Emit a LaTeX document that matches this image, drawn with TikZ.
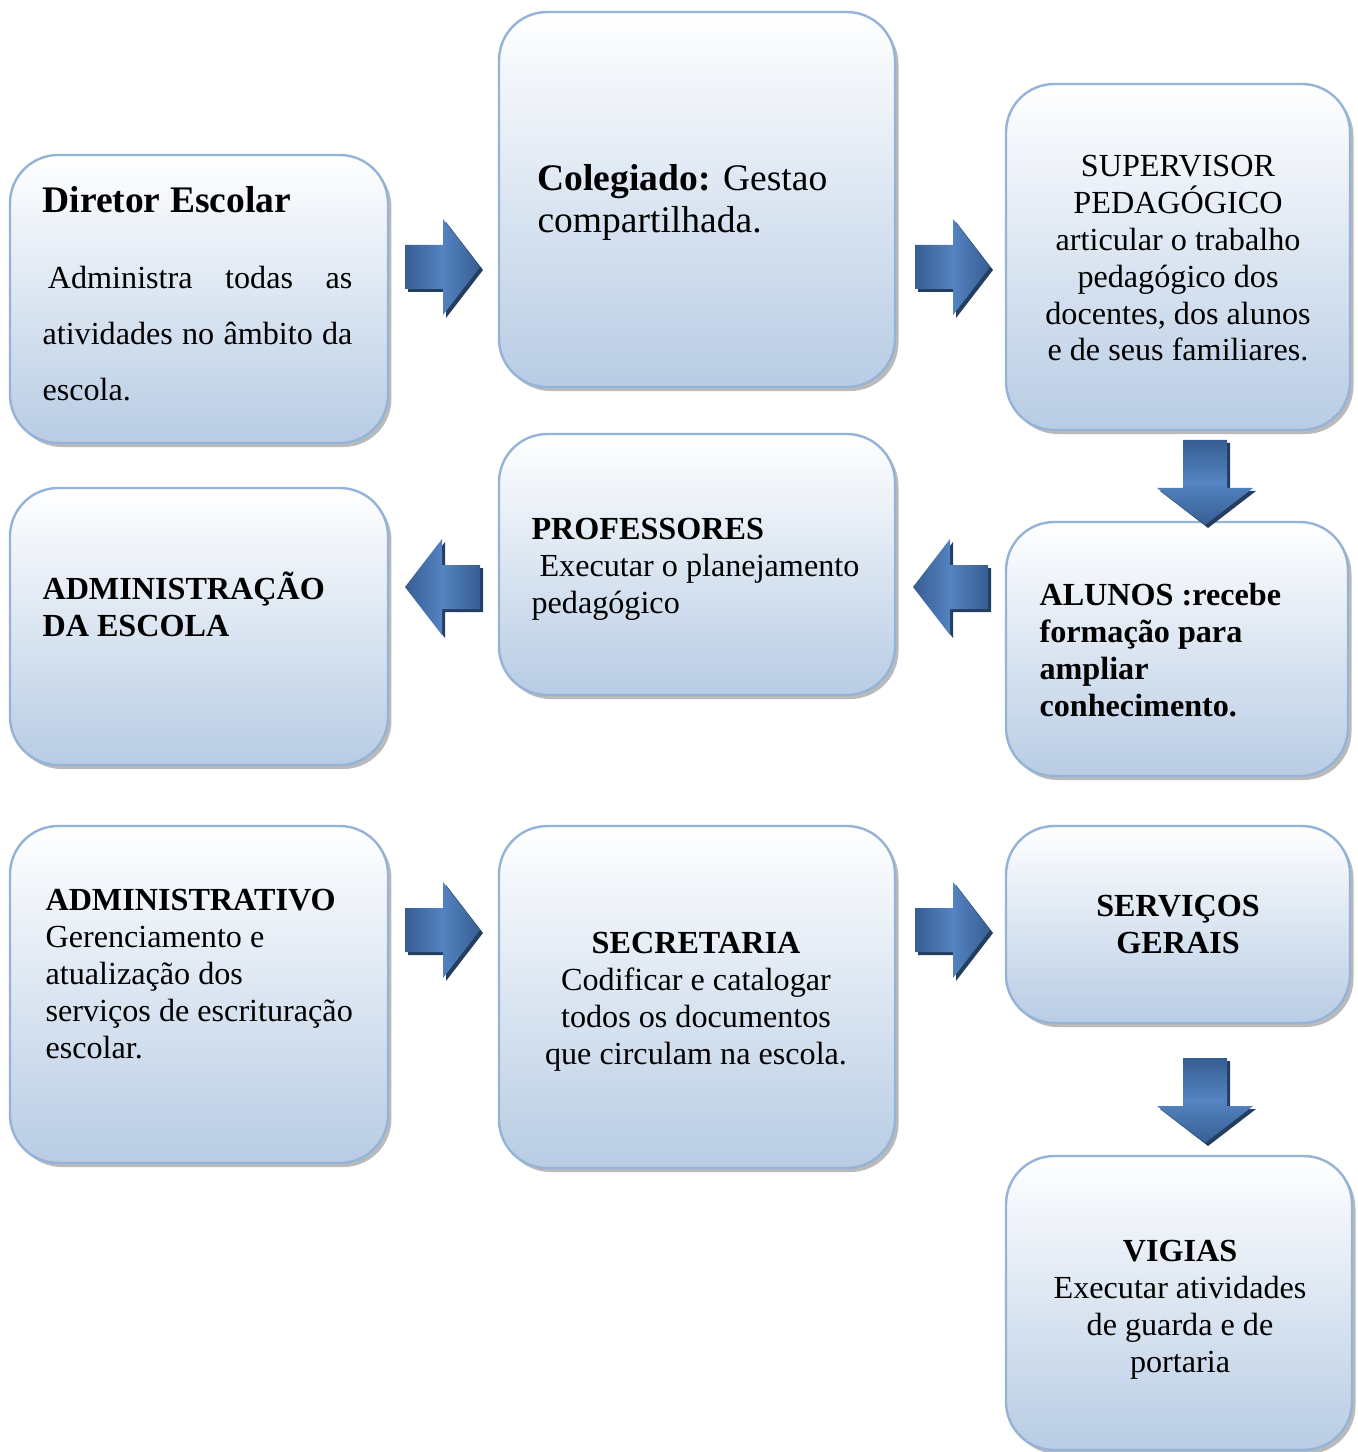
\documentclass[tikz,border=0pt]{standalone}
\usepackage{fontspec}
\setmainfont{Liberation Serif}
\usetikzlibrary{fit,shadows}
\definecolor{bordacaixa}{RGB}{149,179,215}
\definecolor{fundocaixa}{RGB}{184,204,228}
\definecolor{setaclara}{RGB}{84,132,194}
\definecolor{setaescura}{RGB}{55,94,146}
\definecolor{setasombra}{RGB}{36,62,96}

\begin{document}
\begin{tikzpicture}[
    x=0.373pt, y=-0.373pt,
    caixa/.style={rectangle, rounded corners=18pt, draw=bordacaixa, line width=0.9pt,
      top color=white, bottom color=fundocaixa, inner sep=0pt,
      drop shadow={shadow xshift=1.3pt, shadow yshift=-1.5pt, fill=black!45, opacity=0.6}},
    texto/.style={font=\fontsize{12}{13.8}\selectfont, inner sep=0pt},
    negrito/.style={font=\fontsize{12}{13.8}\selectfont\bfseries, inner sep=0pt},
    titulo/.style={font=\fontsize{14}{16}\selectfont, inner sep=0pt},
    horiz/.style={left color=setaescura, right color=setaescura, middle color=setaclara},
    vert/.style={top color=setaescura, bottom color=setaescura, middle color=setaclara}
  ]
  \useasboundingbox (0,0) rectangle (1357,1452);
  % caixas (primeira fila)
  \node[caixa, fit={(10,155) (388,443)}] (dir) {};
  \node[caixa, fit={(499,12) (895,387)}] (col) {};
  \node[caixa, fit={(1006,84) (1350,430)}] (sup) {};
  % segunda fila
  \node[caixa, fit={(10,488) (388,765)}] (adm) {};
  \node[caixa, fit={(499,434) (895,695)}] (prof) {};
  \node[caixa, fit={(1006,522) (1348,776)}] (alu) {};
  % terceira fila
  \node[caixa, fit={(10,826) (388,1163)}] (admtv) {};
  \node[caixa, fit={(499,826) (895,1168)}] (sec) {};
  \node[caixa, fit={(1006,826) (1350,1023)}] (serv) {};
  \node[caixa, fit={(1006,1156) (1352,1450)}] (vig) {};

  % textos (ancorados na linha de base da ultima linha)
  \node[titulo, font=\fontsize{14}{16}\selectfont\bfseries, anchor=base west] (tdir) at (42,213) {Diretor Escolar};
  \node[texto, font=\fontsize{12}{20.9}\selectfont, anchor=base west, align=left] (cdir) at (42,401)
    {\makebox[115.6pt][s]{\hspace*{2pt}Administra todas as}\\
     \makebox[115.6pt][s]{atividades no âmbito da}\\ escola.};
  \node[titulo, anchor=base west, align=left] (tcol) at (537,233)
    {\textbf{Colegiado:} Gestao\\ compartilhada.};
  \node[texto, anchor=base, align=center] (tsup) at (1178,361)
    {SUPERVISOR\\ PEDAGÓGICO\\ articular o trabalho\\ pedagógico dos\\ docentes, dos alunos\\ e de seus familiares.};
  \node[negrito, anchor=base west, align=left] (tadm) at (42,636)
    {ADMINISTRAÇÃO\\ DA ESCOLA};
  \node[texto, anchor=base west, align=left] (tprof) at (531,613)
    {\textbf{PROFESSORES}\\ \hspace*{3pt}Executar o planejamento\\ pedagógico};
  \node[negrito, anchor=base west, align=left] (talu) at (1039,716)
    {ALUNOS :recebe\\ formação para\\ ampliar\\ conhecimento.};
  \node[texto, anchor=base west, align=left] (tadmtv) at (45,1058)
    {\textbf{ADMINISTRATIVO}\\ Gerenciamento e\\ atualização dos\\ serviços de escrituração\\ escolar.};
  \node[texto, anchor=base, align=center] (tsec) at (696,1064)
    {\textbf{SECRETARIA}\\ Codificar e catalogar\\ todos os documentos\\ que circulam na escola.};
  \node[negrito, anchor=base, align=center] (tserv) at (1178,953)
    {SERVIÇOS\\ GERAIS};
  \node[texto, anchor=base, align=center] (tvig) at (1180,1372)
    {\textbf{VIGIAS}\\ Executar atividades\\ de guarda e de\\ portaria};

  % setas de bloco
  \foreach \x/\y/\ang/\len/\sh in {443/267/0/38/horiz, 953/267/0/38/horiz, 1205/488/-90/48/vert,
      442/587/180/38/horiz, 950/587/180/38/horiz, 443/930/0/38/horiz, 953/930/0/38/horiz,
      1205/1106/-90/48/vert}{
    \fill[setasombra, shift={(\x+3,\y+3)}, rotate=\ang]
      (-\len,-22) -- (0,-22) -- (0,-48) -- (37,0) -- (0,48) -- (0,22) -- (-\len,22) -- cycle;
    \path[\sh, shift={(\x,\y)}, rotate=\ang]
      (-\len,-22) -- (0,-22) -- (0,-48) -- (37,0) -- (0,48) -- (0,22) -- (-\len,22) -- cycle;
  }
\end{tikzpicture}
\end{document}
